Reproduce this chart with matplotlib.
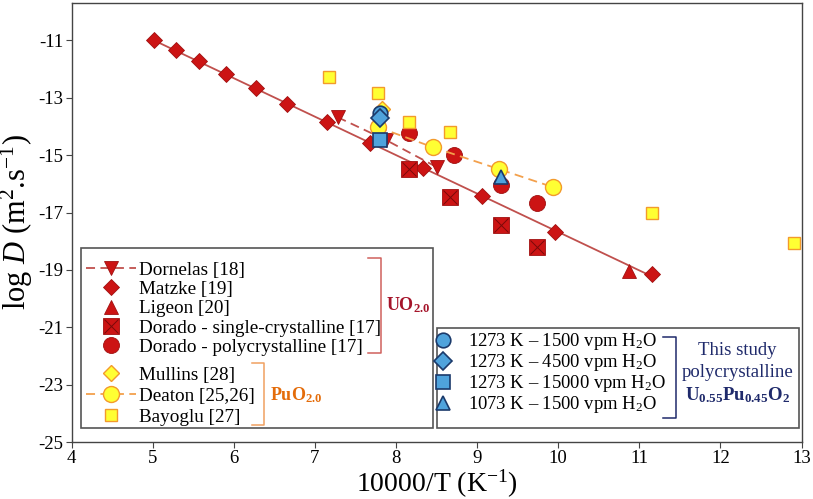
import numpy as np
import matplotlib
matplotlib.use("Agg")
import matplotlib.pyplot as plt
from matplotlib.patches import Rectangle

plt.rcParams['font.family'] = ['Liberation Serif', 'DejaVu Serif']
plt.rcParams['mathtext.fontset'] = 'custom'
plt.rcParams['mathtext.rm'] = 'Liberation Serif'
plt.rcParams['mathtext.it'] = 'Liberation Serif:italic'
plt.rcParams['mathtext.bf'] = 'Liberation Serif:bold'
plt.rcParams['axes.unicode_minus'] = False

# data (x = 10000/T, y = log D)
dornelas_x = [7.28, 7.88, 8.51]
dornelas_y = [-13.68, -14.48, -15.43]
matzke_x = [5.02, 5.29, 5.57, 5.90, 6.27, 6.66, 7.15, 7.68, 8.33, 9.06, 9.96, 11.16]
matzke_y = [-11.0, -11.35, -11.73, -12.18, -12.67, -13.23, -13.86, -14.59, -15.46, -16.44, -17.69, -19.15]
ligeon_x = [10.87]
ligeon_y = [-19.05]
dorado_sc_x = [8.16, 8.67, 9.30, 9.74]
dorado_sc_y = [-15.49, -16.47, -17.45, -18.21]
dorado_pc_x = [8.16, 8.72, 9.29, 9.74]
dorado_pc_y = [-14.24, -15.01, -16.05, -16.68]
mullins_x = [7.83]
mullins_y = [-13.38]
deaton_x = [7.78, 8.46, 9.27, 9.94]
deaton_y = [-14.03, -14.73, -15.49, -16.12]
bayoglu_x = [7.17, 7.78, 8.16, 8.66, 11.16, 12.90]
bayoglu_y = [-12.29, -12.85, -13.86, -14.21, -17.03, -18.05]
study_labels = ['1273 K – 1500 vpm H$_2$O', '1273 K – 4500 vpm H$_2$O',
                '1273 K – 15000 vpm H$_2$O', '1073 K – 1500 vpm H$_2$O']
study_markers = ['o', 'D', 's', '^']
study_x = [7.80, 7.80, 7.80, 9.29]
study_y = [-13.52, -13.72, -14.48, -15.77]

red = '#cc1414'
red_edge = '#a01010'
red_line = '#c0504d'
yel = '#ffff33'
yel_edge = '#f39a2c'
blue = '#4fa3dc'
blue_edge = '#1b3a6b'

fig, ax = plt.subplots(figsize=(8.13, 4.99), dpi=100)
fig.subplots_adjust(left=0.088, right=0.986, top=0.994, bottom=0.114)

# Matzke fit line
coef = np.polyfit(matzke_x, matzke_y, 1)
fx = np.array([min(matzke_x), max(matzke_x)])
ax.plot(fx, np.polyval(coef, fx), color=red_line, lw=1.3, zorder=2)

h_dor, = ax.plot(dornelas_x, dornelas_y, ls=(0, (5, 3)), color=red_line, lw=1.3,
                 marker='v', ms=10, mfc=red, mec=red_edge, mew=0.6, zorder=3)
h_mat, = ax.plot(matzke_x, matzke_y, ls='none', marker='D', ms=8.5, mfc=red,
                 mec=red_edge, mew=0.6, zorder=3)
h_lig, = ax.plot(ligeon_x, ligeon_y, ls='none', marker='^', ms=10, mfc=red,
                 mec=red_edge, mew=0.6, zorder=3)
h_sc1, = ax.plot(dorado_sc_x, dorado_sc_y, ls='none', marker='s', ms=11, mfc=red,
                 mec=red_edge, mew=0.6, zorder=3)
h_sc2, = ax.plot(dorado_sc_x, dorado_sc_y, ls='none', marker='x', ms=10, mec='#7a0a0a',
                 mew=0.7, zorder=3)
h_pc, = ax.plot(dorado_pc_x, dorado_pc_y, ls='none', marker='o', ms=11.5, mfc=red,
                mec=red_edge, mew=0.6, zorder=3)
h_mul, = ax.plot(mullins_x, mullins_y, ls='none', marker='D', ms=8.5, mfc=yel,
                 mec=yel_edge, mew=1.0, zorder=3)
h_dea, = ax.plot(deaton_x, deaton_y, ls=(0, (5, 3)), color='#f3a04c', lw=1.3,
                 marker='o', ms=11.5, mfc=yel, mec=yel_edge, mew=1.0, zorder=3)
h_bay, = ax.plot(bayoglu_x, bayoglu_y, ls='none', marker='s', ms=9, mfc=yel,
                 mec=yel_edge, mew=1.0, zorder=3)

h_study = []
for m, x, y in zip(study_markers, study_x, study_y):
    ms = 9 if m == 'D' else (10.5 if m in ('o', 's') else 10)
    h, = ax.plot([x], [y], ls='none', marker=m, ms=ms, mfc=blue, mec=blue_edge,
                 mew=1.2, zorder=4)
    h_study.append(h)

ax.set_xlim(4, 13)
ax.set_ylim(-25, -9.7)
ax.set_xticks(np.arange(4, 14, 1))
ax.set_yticks(np.arange(-25, -10, 2))
ax.tick_params(direction='out', length=4, labelsize=13.5, color='#444444', pad=2)
for s in ax.spines.values():
    s.set_color('#444444')
    s.set_linewidth(1.0)
ax.set_xlabel('10000/T (K$^{-1}$)', fontsize=20, labelpad=0)
ax.set_ylabel(r'log $\mathit{D}$ (m$^2$.s$^{-1}$)', fontsize=22, labelpad=2)

# legend frames
ax.add_patch(Rectangle((0.0136, 0.032), 0.481, 0.41, transform=ax.transAxes,
                       facecolor='white', edgecolor='#555555', lw=1.2, zorder=6))
ax.add_patch(Rectangle((0.5, 0.032), 0.497, 0.228, transform=ax.transAxes,
                       facecolor='white', edgecolor='#555555', lw=1.2, zorder=6))

leg_kw = dict(frameon=False, fontsize=13.8, handlelength=2.6, handletextpad=0.16,
              labelspacing=0.1, borderpad=0, borderaxespad=0, numpoints=1,
              loc='upper left')
leg1 = ax.legend([h_dor, h_mat, h_lig, (h_sc1, h_sc2), h_pc],
                 ['Dornelas [18]', 'Matzke [19]', 'Ligeon [20]',
                  'Dorado - single-crystalline [17]', 'Dorado - polycrystalline [17]'],
                 bbox_to_anchor=(0.0203, 0.412), **leg_kw)
leg1.set_zorder(7)
ax.add_artist(leg1)
leg2 = ax.legend([h_mul, h_dea, h_bay], ['Mullins [28]', 'Deaton [25,26]', 'Bayoglu [27]'],
                 bbox_to_anchor=(0.0203, 0.173), **dict(leg_kw, labelspacing=0.2))
leg2.set_zorder(7)
ax.add_artist(leg2)
leg3 = ax.legend(h_study, study_labels, bbox_to_anchor=(0.501, 0.252),
                 **dict(leg_kw, fontsize=13.4, handlelength=0.65, handletextpad=1.0,
                        labelspacing=0.0))
leg3.set_zorder(7)

# brackets and group labels
def bracket(x, xl, y0, y1, color):
    ax.plot([xl, x, x, xl], [y1, y1, y0, y0], transform=ax.transAxes, color=color,
            lw=1.1, zorder=8, clip_on=False)

bracket(0.4241, 0.4065, 0.2027, 0.419, '#d0605d')
ax.text(0.431, 0.312, r'$\mathbf{UO_{2.0}}$', transform=ax.transAxes, color='#a5142a',
        fontsize=13, va='center', ha='left', zorder=8)
bracket(0.2642, 0.2466, 0.0387, 0.18, '#f0a060')
ax.text(0.2724, 0.107, r'$\mathbf{PuO_{2.0}}$', transform=ax.transAxes, color='#e46c0a',
        fontsize=13, va='center', ha='left', zorder=8)
bracket(0.828, 0.81, 0.0547, 0.239, '#1f2a6b')
ax.text(0.912, 0.2096, 'This study', transform=ax.transAxes, color='#1f2a6b',
        fontsize=13.5, va='center', ha='center', zorder=8)
ax.text(0.912, 0.159, 'polycrystalline', transform=ax.transAxes, color='#1f2a6b',
        fontsize=13.5, va='center', ha='center', zorder=8)
ax.text(0.912, 0.107, r'$\mathbf{U_{0.55}Pu_{0.45}O_2}$', transform=ax.transAxes,
        color='#1f2a6b', fontsize=13.5, va='center', ha='center', zorder=8)

fig.savefig('out.png', dpi=100)
